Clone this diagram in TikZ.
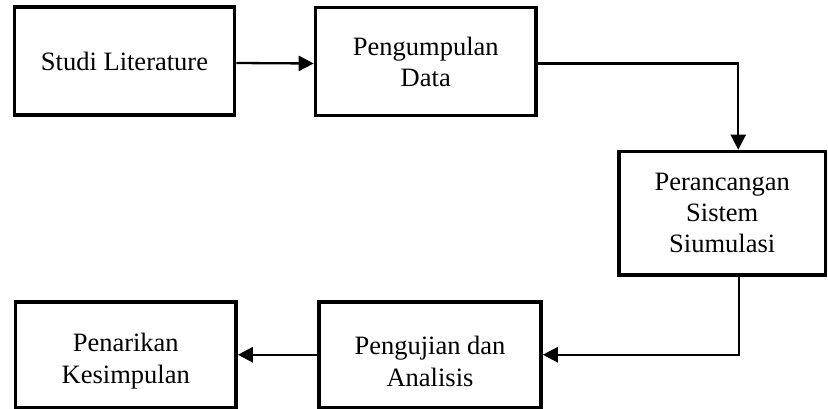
\documentclass[tikz,border=0pt]{standalone}
\usepackage{fontspec}
\setmainfont{Liberation Serif}
\usetikzlibrary{arrows.meta}
\begin{document}
\begin{tikzpicture}[x=1pt,y=-1pt,
  box/.style={draw=black, line width=3.6pt, fill=white, align=center, inner sep=0pt,
    font=\fontsize{26.5}{31}\selectfont},
  arr/.style={line width=2.3pt, -{Triangle[length=15pt,width=15pt]}}]
\useasboundingbox (0,0) rectangle (828,409);
\node[box, minimum width=220pt, minimum height=108pt] (b1) at (124.5,61) {Studi Literature};
\node[box, minimum width=220.5pt, minimum height=108pt] (b2) at (425.75,61.5) {Pengumpulan\\Data};
\node[box, minimum width=206.5pt, minimum height=123.5pt] (b3) at (722.25,213.25) {Perancangan\\Sistem\\Siumulasi};
\node[box, minimum width=222pt, minimum height=105.5pt] (b4) at (430,354.75) {};
\node[box, minimum width=220.5pt, minimum height=105.5pt] (b5) at (125.75,354.75) {};
\node[font=\fontsize{26.5}{32}\selectfont, align=center] (t4) at (430,361) {Pengujian dan\\Analisis};
\node[font=\fontsize{26.5}{32}\selectfont, align=center] (t5) at (125.75,361) {Penarikan\\Kesimpulan};
\draw[arr] ([yshift=-2pt]b1.east) -- ([yshift=-2pt]b2.west);
\draw[arr] ([yshift=-2pt]b2.east) -| ([xshift=16pt]b3.north);
\draw[arr] ([xshift=17pt]b3.south) |- (b4.east);
\draw[arr] (b4.west) -- (b5.east);
\end{tikzpicture}
\end{document}
